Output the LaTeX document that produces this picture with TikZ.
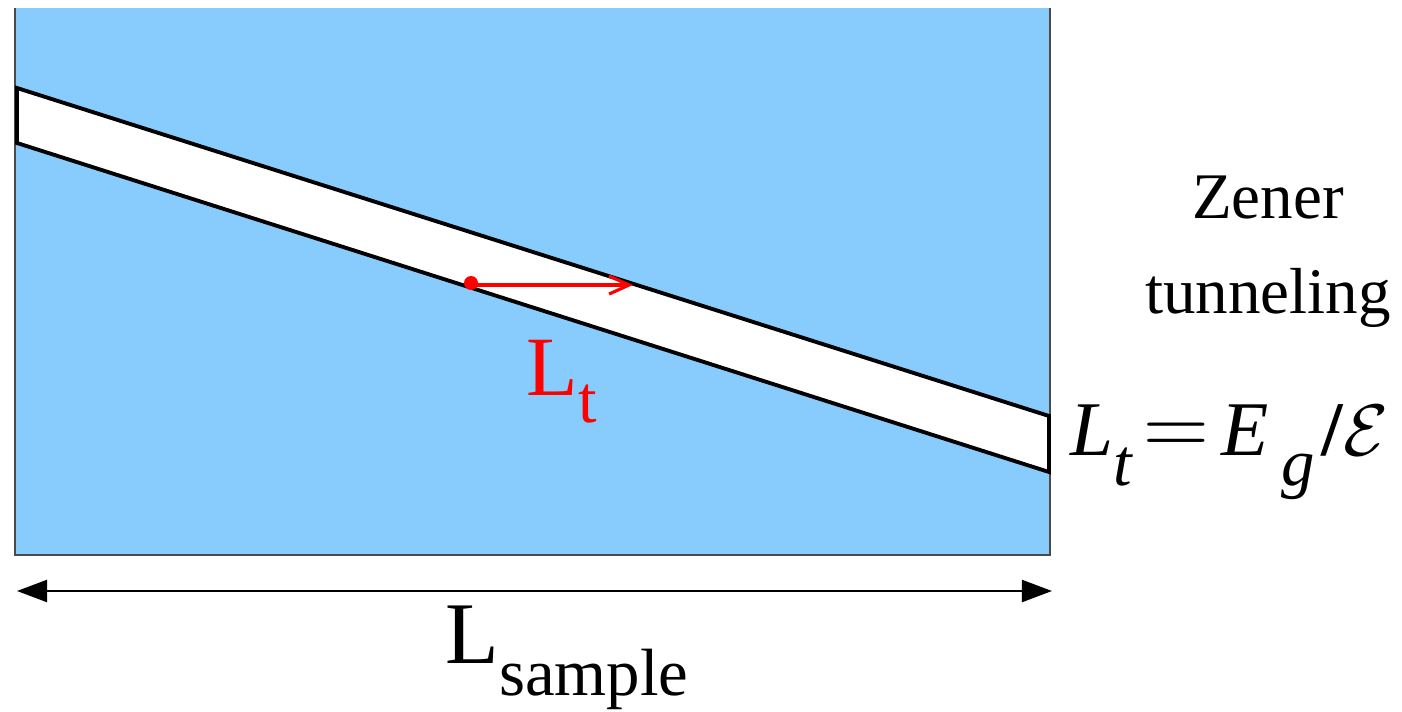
\documentclass[tikz,border=0pt]{standalone}
\usepackage{amsmath,amssymb}
\usepackage{fontspec}
\setmainfont{Liberation Serif}
\newfontfamily\tms{Liberation Serif}
\usepackage{xcolor}
\usepackage{tikz}
\usetikzlibrary{calc,arrows.meta,positioning}
\definecolor{skyc}{HTML}{87CCFC}
\definecolor{edgec}{HTML}{4A4A4A}
\definecolor{redc}{HTML}{FF0000}
\tikzset{
  band/.style={draw=black,line width=1.1pt,fill=white,line join=miter},
  ar/.style={-{Straight Barb[length=2mm,width=1.8mm]},line width=0.9pt,redc},
  dimar/.style={{Triangle[length=3mm,width=2.2mm]}-{Triangle[length=3mm,width=2.2mm]},semithick,black},
  lbl/.style={inner sep=0pt,align=center,font=\tms}
}

\begin{document}
\begin{tikzpicture}[x=0.01cm,y=-0.01cm]
\useasboundingbox (0,0) rectangle (1402,712);
% sample
\fill[skyc] (15,8) rectangle (1050,555);
\draw[edgec,thin] (15,8)--(15,555)--(1050,555)--(1050,8);
% tilted gap
\draw[band] (17,88)--(1049,416)--(1049,472)--(17,143)--cycle;
% tunneling length
\fill[redc] (471,283) circle (7);
\coordinate (tip) at (633,285);
\coordinate (dot) at (471,285);
\draw[ar] (dot)--(tip);
\node[lbl,text=redc] (lt) at (562,382) {\fontsize{24}{24}\selectfont L\raisebox{-0.32em}{\fontsize{19}{19}\selectfont t}};
% labels on the right
\node[lbl,font=\tms\fontsize{18.5}{25}\selectfont] (zener) at (1268,252) {Zener\\[2pt]tunneling};
\node[lbl,anchor=west] (form) at (1070,452) {\fontsize{22}{22}\selectfont\itshape L\raisebox{-0.38em}{\fontsize{19}{19}\selectfont t}\hspace{0.15em}\scalebox{1.25}{$=$}\hspace{0.15em}E\raisebox{-0.38em}{\fontsize{19}{19}\selectfont\hspace{0.2em}g}\hspace{0.08em}\upshape\textbf{/}$\mathcal{E}$};
% sample length
\coordinate (le) at (17,591);
\coordinate (re) at (1052,591);
\draw[dimar] (le)--(re);
\node[lbl] (ls) at (567,658) {\fontsize{25}{25}\selectfont L\raisebox{-0.36em}{\fontsize{19}{19}\selectfont sample}};
\end{tikzpicture}
\end{document}
